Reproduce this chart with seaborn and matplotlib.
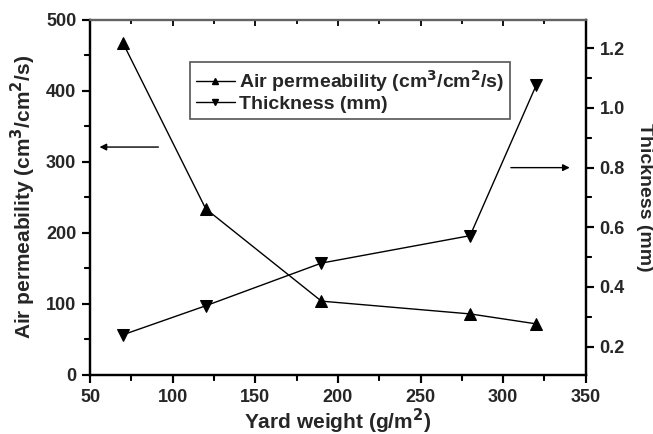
import numpy as np
import pandas as pd
import matplotlib
matplotlib.use("Agg")
import matplotlib.pyplot as plt
import matplotlib.transforms as mtransforms
import seaborn as sns
from matplotlib.lines import Line2D
from matplotlib.ticker import MultipleLocator

# Data
yard_weight = [70, 120, 190, 280, 320]
air_perm = [467, 234, 104, 86, 72]
thickness = [0.24, 0.337, 0.48, 0.572, 1.076]
labels = ['Air permeability (cm$^3$/cm$^2$/s)', 'Thickness (mm)']

df = pd.DataFrame({'yard_weight': yard_weight, 'air_perm': air_perm, 'thickness': thickness})

sns.set_theme(style='ticks')
plt.rcParams['font.family'] = ['Liberation Sans', 'DejaVu Sans']
plt.rcParams['font.weight'] = 'bold'
plt.rcParams['axes.labelweight'] = 'bold'
plt.rcParams['mathtext.default'] = 'bf'

fig = plt.figure(figsize=(6.53, 4.34), dpi=100)
ax = fig.add_axes([0.138, 0.136, 0.759, 0.818])
ax2 = ax.twinx()

sns.lineplot(data=df, x='yard_weight', y='air_perm', ax=ax, color='black', lw=1,
             marker='^', markersize=8, markeredgecolor='black', legend=False)
sns.lineplot(data=df, x='yard_weight', y='thickness', ax=ax2, color='black', lw=1,
             marker='v', markersize=8, markeredgecolor='black', legend=False)

ax.xaxis.set_major_locator(MultipleLocator(50))
ax.xaxis.set_minor_locator(MultipleLocator(25))
ax.yaxis.set_major_locator(MultipleLocator(100))
ax.yaxis.set_minor_locator(MultipleLocator(50))
ax2.yaxis.set_major_locator(MultipleLocator(0.2))
ax2.yaxis.set_minor_locator(MultipleLocator(0.1))
ax.set_xlim(50, 350)
ax.set_ylim(0, 500)
ax2.set_ylim(0.105, 1.295)

ax.set_xlabel('Yard weight (g/m$^2$)', fontsize=15, fontweight='bold', labelpad=1)
ax.set_ylabel('Air permeability (cm$^3$/cm$^2$/s)', fontsize=15, fontweight='bold', labelpad=6)
ax2.set_ylabel('Thickness (mm)', fontsize=14, fontweight='bold', rotation=270, labelpad=20)
ax2.set_xlabel('')

for a in (ax, ax2):
    for s in a.spines.values():
        s.set_linewidth(1.6)
        s.set_color('black')
ax2.spines['top'].set_color('#777777')
ax2.spines['top'].set_linewidth(1.2)

ax.tick_params(axis='both', which='major', direction='out', length=6, width=1.5,
               labelsize=13, pad=4, color='black')
ax.tick_params(axis='both', which='minor', direction='out', length=4, width=1.3, color='black')
ax2.tick_params(axis='y', which='major', direction='out', length=6, width=1.5,
                labelsize=13, pad=4, color='black')
ax2.tick_params(axis='y', which='minor', direction='out', length=4, width=1.3, color='black')
ax2.yaxis.set_major_formatter(plt.FormatStrFormatter('%.1f'))

# tick marks drawn as short segments at the locator positions
def in_range(locs, lo, hi):
    locs = np.asarray(locs)
    return locs[(locs >= lo - 1e-9) & (locs <= hi + 1e-9)]

xb = mtransforms.blended_transform_factory(ax.transData, ax.transAxes)
yl = mtransforms.blended_transform_factory(ax.transAxes, ax.transData)
yr = mtransforms.blended_transform_factory(ax2.transAxes, ax2.transData)
for locs, lx, ly in [(ax.xaxis.get_majorticklocs(), 0.022, 0.016), (ax.xaxis.get_minorticklocs(), 0.014, 0.010)]:
    locs = in_range(locs, 50, 350)
    ax.vlines(locs, -lx, 0, transform=xb, colors='black', lw=1.5, clip_on=False)
    ax.vlines(locs, 1 - lx * 0.8, 1, transform=xb, colors='black', lw=1.3, clip_on=False)
for locs, lx in [(ax.yaxis.get_majorticklocs(), 0.016), (ax.yaxis.get_minorticklocs(), 0.010)]:
    locs = in_range(locs, 0, 500)
    ax.hlines(locs, -lx, 0, transform=yl, colors='black', lw=1.5, clip_on=False)
for locs, lx in [(ax2.yaxis.get_majorticklocs(), 0.016), (ax2.yaxis.get_minorticklocs(), 0.010)]:
    locs = in_range(locs, 0.105, 1.295)
    ax2.hlines(locs, 1, 1 + lx, transform=yr, colors='black', lw=1.5, clip_on=False)

# arrows pointing to the axes
ax.annotate('', xy=(54, 321), xytext=(93, 321),
            arrowprops=dict(arrowstyle='-|>', color='black', lw=1, mutation_scale=10))
ax2.annotate('', xy=(342, 0.8), xytext=(303, 0.8),
             arrowprops=dict(arrowstyle='-|>', color='black', lw=1, mutation_scale=10))

handles = [Line2D([], [], color='black', lw=1, marker='^', markersize=5),
           Line2D([], [], color='black', lw=1, marker='v', markersize=5)]
leg = ax2.legend(handles, labels, loc='upper left', bbox_to_anchor=(190 / 653, 1 - 62 / 434),
                 bbox_transform=fig.transFigure, borderaxespad=0, fancybox=False,
                 edgecolor='#555555', framealpha=1, handlelength=2.0, numpoints=1,
                 handletextpad=0.2, labelspacing=0.1, borderpad=0.3,
                 prop={'weight': 'bold', 'size': 14})
leg.get_frame().set_linewidth(1.2)

fig.savefig('out.png', dpi=100)
